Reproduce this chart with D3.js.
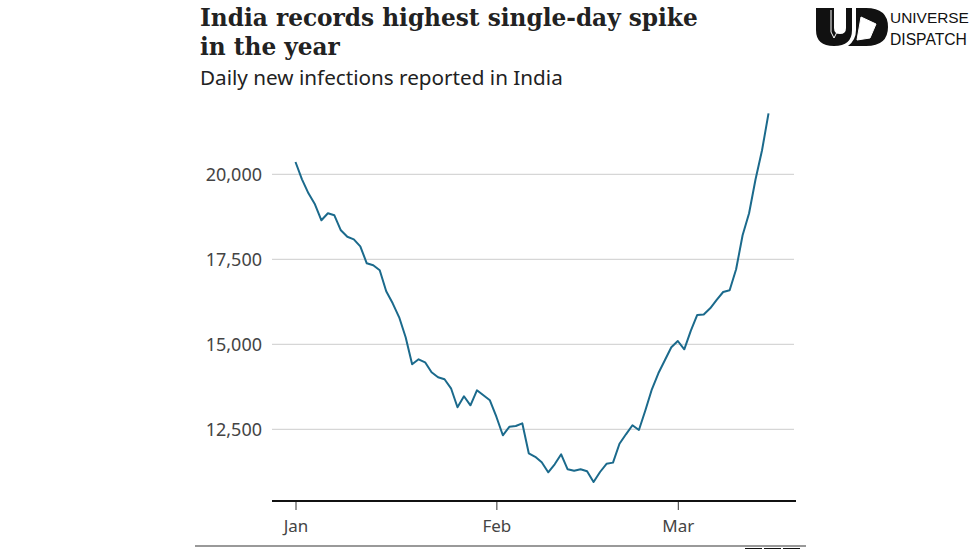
<!DOCTYPE html>
<html><head><meta charset="utf-8">
<script src="https://cdn.jsdelivr.net/npm/d3@7"></script>
<style>html,body{margin:0;padding:0;background:#fff;overflow:hidden}</style>
</head><body>
<svg id="c" width="976" height="549"></svg>
<script>
const title = ["India records highest single-day spike", "in the year"];
const subtitle = "Daily new infections reported in India";
const source = "Source: India Ministry of Health and Family Welfare, as at 15 March";
const startDate = "2021-01-01";
// daily values, 1 Jan – 15 Mar 2021
const values = [
  20362, 19853, 19441, 19118, 18647, 18853, 18794, 18353, 18162, 18088,
  17882, 17382, 17324, 17176, 16559, 16206, 15794, 15206, 14412, 14559,
  14471, 14176, 14029, 13971, 13706, 13147, 13471, 13206, 13647, 13500,
  13353, 12870, 12324, 12574, 12597, 12676, 11794, 11691, 11529, 11235,
  11471, 11765, 11324, 11279, 11324, 11265, 10950, 11244, 11485, 11520,
  12074, 12353, 12618, 12479, 13059, 13676, 14147, 14529, 14912, 15097,
  14853, 15397, 15862, 15874, 16059, 16309, 16538, 16588, 17206, 18206,
  18853, 19853, 20706, 21794
];
const yTicks = [12500, 15000, 17500, 20000];
const monthTicks = ["2021-01-01", "2021-02-01", "2021-03-01"];

const svg = d3.select("#c");
const parse = d3.utcParse("%Y-%m-%d");
const t0 = parse(startDate);
const data = values.map((v, i) => ({date: d3.utcDay.offset(t0, i), value: v}));

const x = d3.scaleUtc()
  .domain([parse("2021-01-01"), parse("2021-03-01")])
  .range([295.5, 677.8]);
const y = d3.scaleLinear().domain([12500, 20000]).range([429.3, 174.3]);

const plotLeft = 272, plotRight = 794, baseY = 501;

// gridlines
svg.append("g").selectAll("line").data(yTicks).join("line")
  .attr("x1", plotLeft).attr("x2", plotRight)
  .attr("y1", d => y(d)).attr("y2", d => y(d))
  .attr("stroke", "#cccccc").attr("stroke-width", 1);

// y labels
svg.append("g").selectAll("text").data(yTicks).join("text")
  .attr("x", 262).attr("y", d => y(d)).attr("dy", "0.36em")
  .attr("text-anchor", "end")
  .attr("font-family", "'Noto Sans', sans-serif").attr("font-size", 18)
  .attr("fill", "#444")
  .text(d => d3.format(",")(d));

// x axis
const xAxis = d3.axisBottom(x)
  .tickValues(monthTicks.map(parse))
  .tickFormat(d3.utcFormat("%b"))
  .tickSize(9).tickSizeOuter(0);
const gx = svg.append("g").attr("transform", `translate(0,${baseY})`).call(xAxis);
gx.select(".domain").remove();
gx.selectAll(".tick line").attr("stroke", "#333").attr("stroke-width", 1);
gx.selectAll(".tick text").attr("y", 19)
  .attr("font-family", "'Noto Sans', sans-serif").attr("font-size", 17).attr("fill", "#444");
svg.append("line").attr("x1", plotLeft).attr("x2", plotRight + 2)
  .attr("y1", baseY).attr("y2", baseY).attr("stroke", "#111").attr("stroke-width", 2);

// line
svg.append("path").datum(data)
  .attr("fill", "none").attr("stroke", "#1b6a8c").attr("stroke-width", 2)
  .attr("stroke-linejoin", "round")
  .attr("d", d3.line().x(d => x(d.date)).y(d => y(d.value)));

// title
function fit(sel, w) {
  const n = sel.node(); const cur = n.getComputedTextLength();
  const fs = parseFloat(sel.attr("font-size"));
  sel.attr("font-size", fs * w / cur);
}
const t1 = svg.append("text").attr("x", 200).attr("y", 26)
  .attr("font-family", "'DejaVu Serif', serif").attr("font-weight", "bold")
  .attr("font-size", 24).attr("fill", "#222").text(title[0]);
fit(t1, 498);
svg.append("text").attr("x", 200).attr("y", 55)
  .attr("font-family", "'DejaVu Serif', serif").attr("font-weight", "bold")
  .attr("font-size", t1.attr("font-size")).attr("fill", "#222").text(title[1]);
const st = svg.append("text").attr("x", 200).attr("y", 85)
  .attr("font-family", "'Noto Sans', sans-serif").attr("font-size", 19)
  .attr("fill", "#222").text(subtitle);
fit(st, 363);

// footer
svg.append("line").attr("x1", 195).attr("x2", 806).attr("y1", 546).attr("y2", 546)
  .attr("stroke", "#777").attr("stroke-width", 1.5);
svg.append("text").attr("x", 200).attr("y", 561)
  .attr("font-family", "'Noto Sans', sans-serif").attr("font-size", 14)
  .attr("fill", "#404040").text(source);
[745, 764, 783].forEach(bx => svg.append("rect").attr("x", bx).attr("y", 548)
  .attr("width", 17).attr("height", 17).attr("fill", "#111"));

// logo
const lg = svg.append("g");
lg.append("path").attr("fill", "#111")
  .attr("d", "M816,8 L834,8 L834,28 Q834,34 840,34 Q846,34 846,28 L846,8 L852,8 L852,30 Q852,46 834,46 Q816,46 816,30 Z");
lg.append("path").attr("fill", "#111")
  .attr("d", "M852,8 L866,8 Q888,8 888,27 Q888,46 866,46 L848,46 Q856,40 856,30 L856,8 Z");
lg.append("path").attr("fill", "#fff").attr("stroke", "#fff")
  .attr("d", "M861,17 L876,24 L870,38 L857,40 Z");
lg.append("path").attr("fill", "none").attr("stroke", "#fff").attr("stroke-width", 1)
  .attr("d", "M831,10 L831,32 L834,38 L837,32 L837,10");
const u1 = lg.append("text").attr("x", 890).attr("y", 23)
  .attr("font-family", "'Liberation Sans', sans-serif").attr("font-size", 16)
  .attr("fill", "#111").text("UNIVERSE");
fit(u1, 79);
const u2 = lg.append("text").attr("x", 890).attr("y", 45)
  .attr("font-family", "'Liberation Sans', sans-serif").attr("font-size", 16)
  .attr("fill", "#111").text("DISPATCH");
fit(u2, 77);
</script>
</body></html>
